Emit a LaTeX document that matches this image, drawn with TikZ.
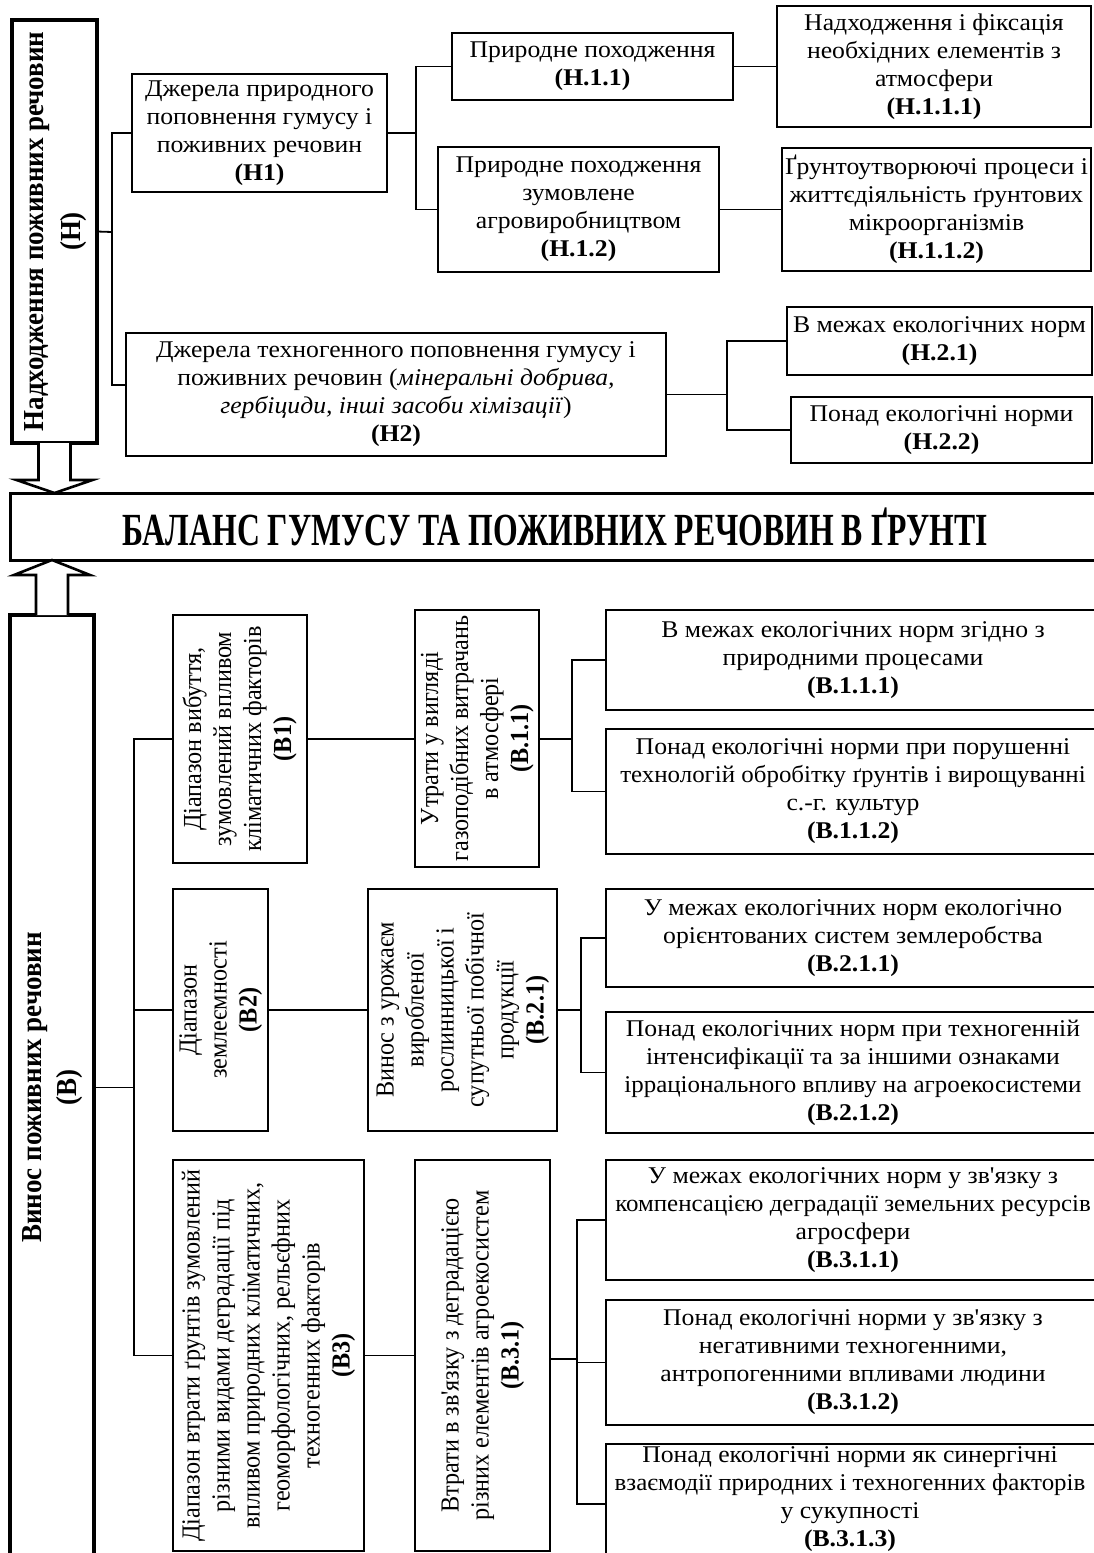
\documentclass[tikz,border=0pt]{standalone}
\usepackage{fontspec}
\setmainfont{Liberation Serif}
\newfontfamily\hf{Liberation Serif}[FakeStretch=1.07]
\newfontfamily\vf{Liberation Serif}[FakeStretch=0.93]
\newfontfamily\tf{Liberation Serif}[FakeStretch=0.69]
\usetikzlibrary{calc}
\tikzset{
  box/.style={draw, line width=2.3pt, inner sep=0pt, outer sep=0pt, align=center},
  heavy/.style={box, line width=3.5pt},
  conn/.style={line width=1.8pt},
  barrow/.style={draw, fill=white, line width=2.6pt, line join=miter},
  ht/.style={font=\hf\fontsize{24}{28}\selectfont, align=center, inner sep=0pt},
  vt/.style={font=\vf\fontsize{26}{30}\selectfont},
}
\newcommand\hbx[6]{\node[box, minimum width={#4-#2}, minimum height={#5-#3}] (#1) at ({(#2+#4)/2},{(#3+#5)/2}) {};
  \node[ht] (#1t) at (#1.center) {#6};}
\newcommand\vbx[6]{\node[box, vt, minimum width={#4-#2}, minimum height={#5-#3}] (#1) at ({(#2+#4)/2},{(#3+#5)/2}) {\rotatebox{90}{\begin{tabular}{@{}c@{}}#6\end{tabular}}};}
\newcommand\sq[1]{\scalebox{0.97}[1]{#1}}
\begin{document}
\begin{tikzpicture}[x=1pt,y=-1pt]
\useasboundingbox (0,0) rectangle (1094,1553);
\clip (0,0) rectangle (1094,1553);
% ---------- H part
\node[heavy, minimum width=85, minimum height=423, font=\vf\bfseries\fontsize{29}{37}\selectfont] (h) at (54.5,231.5)
  {\rotatebox{90}{\begin{tabular}{@{}c@{}}Надходження поживних речовин\\(Н)\end{tabular}}};
\hbx{h1}{132}{74}{387}{192}{Джерела природного\\ поповнення гумусу і\\ поживних речовин\\ \textbf{(Н1)}}
\hbx{h11}{452}{33}{733}{100}{Природне походження\\ \textbf{(Н.1.1)}}
\hbx{h111}{777}{6}{1091}{127}{Надходження і фіксація\\ необхідних елементів з\\ атмосфери\\ \textbf{(Н.1.1.1)}}
\hbx{h12}{438}{147}{719}{272}{Природне походження\\ зумовлене\\ агровиробництвом\\ \textbf{(Н.1.2)}}
\hbx{h112}{782}{148}{1091}{271}{Ґрунтоутворюючі процеси і\\ життєдіяльність ґрунтових\\ мікроорганізмів\\ \textbf{(Н.1.1.2)}}
\hbx{h2}{126}{333}{666}{456}{Джерела техногенного поповнення гумусу і\\ поживних речовин (\textit{мінеральні добрива,}\\ \textit{гербіциди, інші засоби хімізації})\\ \textbf{(Н2)}}
\hbx{h21}{787}{307}{1092}{375}{В межах екологічних норм\\ \textbf{(Н.2.1)}}
\hbx{h22}{791}{397}{1092}{463}{Понад екологічні норми\\ \textbf{(Н.2.2)}}
% ---------- balance
\node[box, line width=3pt, minimum width=1090, minimum height=67, font=\tf\bfseries\fontsize{46}{50}\selectfont] (bal) at (555,526.5)
  {БАЛАНС ГУМУСУ ТА ПОЖИВНИХ РЕЧОВИН В ҐРУНТІ};
% ---------- B part
\node[heavy, minimum width=84, minimum height=945, font=\vf\bfseries\fontsize{29}{35}\selectfont] (b) at (52,1087.5)
  {\rotatebox{90}{\begin{tabular}{@{}c@{}}Винос поживних речовин\\(В)\end{tabular}}};
\vbx{b1}{173}{615}{307}{863}{Діапазон вибуття,\\ зумовлений впливом\\ кліматичних факторів\\ \textbf{(В1)}}
\vbx{b11}{415}{610}{539}{867}{Утрати у вигляді\\ газоподібних витрачань\\ в атмосфері\\ \textbf{(В.1.1)}}
\hbx{b111}{606}{610}{1100}{710}{В межах екологічних норм згідно з\\ природними процесами\\ \textbf{(В.1.1.1)}}
\hbx{b112}{606}{729}{1100}{854}{Понад екологічні норми при порушенні\\ \sq{технологій обробітку ґрунтів і вирощуванні}\\ с.-г. культур\\ \textbf{(В.1.1.2)}}
\vbx{b2}{173}{889}{268}{1131}{Діапазон\\ землеємності\\ \textbf{(В2)}}
\vbx{b21}{368}{889}{557}{1131}{Винос з урожаєм\\ виробленої\\ рослинницької і\\ супутньої побічної\\ продукції\\ \textbf{(В.2.1)}}
\hbx{b211}{606}{889}{1100}{987}{У межах екологічних норм екологічно\\ орієнтованих систем землеробства\\ \textbf{(В.2.1.1)}}
\hbx{b212}{606}{1012}{1100}{1133}{Понад екологічних норм при техногенній\\ інтенсифікації та за іншими ознаками\\ \sq{ірраціонального впливу на агроекосистеми}\\ \textbf{(В.2.1.2)}}
\vbx{b3}{173}{1160}{364}{1551}{Діапазон втрати ґрунтів зумовлений\\ різними видами деградації під\\ впливом природних кліматичних,\\ геоморфологічних, рельєфних\\ техногенних факторів\\ \textbf{(В3)}}
\vbx{b31}{415}{1160}{550}{1551}{Втрати в зв'язку з деградацією\\ різних елементів агроекосистем\\ \textbf{(В.3.1)}}
\hbx{b311}{606}{1160}{1100}{1280}{У межах екологічних норм у зв'язку з\\ \sq{компенсацією деградації земельних ресурсів}\\ агросфери\\ \textbf{(В.3.1.1)}}
\hbx{b312}{606}{1300}{1100}{1425}{Понад екологічні норми у зв'язку з\\ негативними техногенними,\\ антропогенними впливами людини\\ \textbf{(В.3.1.2)}}
\node[box, minimum width=494, minimum height=120] (b313) at (853,1504) {};
\node[ht] (b313t) at (850,1499) {Понад екологічні норми як синергічні\\ \sq{взаємодії природних і техногенних факторів}\\ у сукупності\\ \textbf{(В.3.1.3)}};
% ---------- connectors H
\coordinate (jh) at (112,232);
\draw[conn] (h.east) -- (jh);
\draw[conn] (h1.west) -| (jh);
\draw[conn] ([yshift=9.5pt]h2.west) -| (jh);
\coordinate (jh1) at (416,133);
\draw[conn] (h1.east) -- (jh1);
\draw[conn] (h11.west) -| (jh1);
\draw[conn] (h12.west) -| (jh1);
\draw[conn] (h11.east) -- (h111.west |- h11.east);
\draw[conn] (h12.east) -- (h112.west |- h12.east);
\coordinate (jh2) at (727,394.5);
\draw[conn] (h2.east) -- (jh2);
\draw[conn] (h21.west) -| (jh2);
\draw[conn] (h22.west) -| (jh2);
% ---------- connectors B
\coordinate (jb) at (134,1087.5);
\draw[conn] (b.east) -- (jb);
\draw[conn] (b1.west) -| (jb);
\draw[conn] (b2.west) -| (jb);
\draw[conn] (b3.west) -| (jb);
\draw[conn] (b1.east) -- (b11.west |- b1.east);
\coordinate (jb1) at (572,739);
\draw[conn] (b11.east |- jb1) -- (jb1);
\draw[conn] (b111.west) -| (jb1);
\draw[conn] (b112.west) -| (jb1);
\draw[conn] (b2.east) -- (b21.west);
\coordinate (jb2) at (581,1010);
\draw[conn] (b21.east |- jb2) -- (jb2);
\draw[conn] (b211.west) -| (jb2);
\draw[conn] (b212.west) -| (jb2);
\draw[conn] (b3.east) -- (b31.west);
\coordinate (jb3) at (577,1359);
\draw[conn] (b31.east |- jb3) -- (jb3);
\draw[conn] (b311.west) -| (jb3);
\draw[conn] (b312.west) -| (jb3);
\draw[conn] (b313.west) -| (jb3);
% ---------- block arrows
\coordinate (ta) at (h.south |- bal.north);
\draw[barrow] ($(h.south)+(-16,0)$) -- ($(ta)+(-16,-13)$) -- ($(ta)+(-38,-13)$) -- (ta)
  -- ($(ta)+(38,-13)$) -- ($(ta)+(16,-13)$) -- ($(h.south)+(16,0)$);
\coordinate (tb) at (b.north |- bal.south);
\draw[barrow] ($(b.north)+(-16,0)$) -- ($(tb)+(-16,15)$) -- ($(tb)+(-38,15)$) -- (tb)
  -- ($(tb)+(38,15)$) -- ($(tb)+(16,15)$) -- ($(b.north)+(16,0)$);
\end{tikzpicture}
\end{document}
